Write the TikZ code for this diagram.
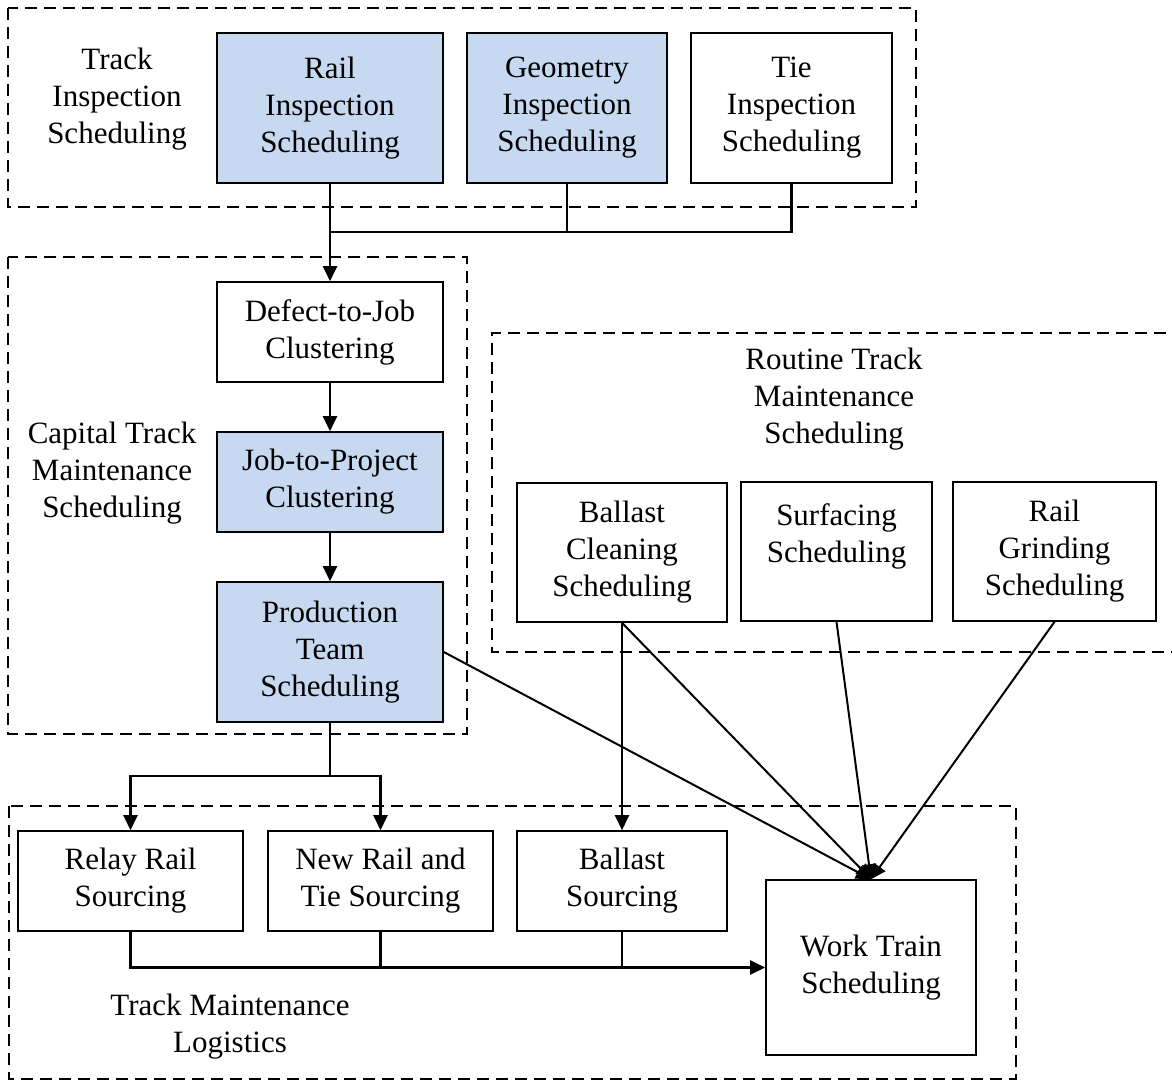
\documentclass[tikz,border=0pt]{standalone}
\usepackage{fontspec}
\setmainfont{Liberation Serif}
\usetikzlibrary{arrows.meta}
\definecolor{boxblue}{RGB}{198,217,240}
\begin{document}
\begin{tikzpicture}[x=1pt,y=-1pt,
  every node/.style={font=\fontsize{31}{37}\selectfont, align=center, inner sep=0pt},
  stepbox/.style={draw, line width=1.6pt, fill=white},
  bluebox/.style={stepbox, fill=boxblue},
  group/.style={draw, dashed, line width=1.6pt, dash pattern=on 12pt off 7pt},
  link/.style={line width=2.2pt},
  flow/.style={link, -{Triangle[length=15pt,width=14pt]}},
  feed/.style={line width=2pt, -{Triangle[length=15pt,width=14pt]}}
]
\useasboundingbox (0,0) rectangle (1172,1080);

% group frames
\draw[group] (8,8) rectangle (916,207);
\draw[group] (8,257) rectangle (467,734);
\draw[group] (1185,333) -- (492,333) -- (492,652) -- (1185,652);
\draw[group] (9,806) rectangle (1016,1079);

% group titles
\node (tis) at (117,99) {Track\\Inspection\\Scheduling};
\node (ctm) at (112,473) {Capital Track\\Maintenance\\Scheduling};
\node (rtm) at (834,399) {Routine Track\\Maintenance\\Scheduling};
\node (tml) at (230,1027) {Track Maintenance\\Logistics};

% inspection
\node[bluebox, minimum width=226pt, minimum height=150pt] (rail) at (330,108) {Rail\\Inspection\\Scheduling};
\node[bluebox, minimum width=200pt, minimum height=150pt] (geom) at (567,108) {Geometry\\Inspection\\Scheduling};
\node[stepbox, minimum width=201pt, minimum height=150pt] (tie) at (791.5,108) {Tie\\Inspection\\Scheduling};

% capital maintenance
\node[stepbox, minimum width=226pt, minimum height=100pt] (defect) at (330,332) {Defect-to-Job\\Clustering};
\node[bluebox, minimum width=226pt, minimum height=100pt] (job) at (330,482) {Job-to-Project\\Clustering};
\node[bluebox, minimum width=226pt, minimum height=140pt] (prod) at (330,652) {Production\\Team\\Scheduling};

% routine maintenance
\node[stepbox, minimum width=210pt, minimum height=139pt] (bclean) at (622,552.5) {Ballast\\Cleaning\\Scheduling};
\node[stepbox, minimum width=191pt, minimum height=139pt] (surf) at (836.5,551.5) {Surfacing\\Scheduling\\\mbox{}};
\node[stepbox, minimum width=203pt, minimum height=139pt] (grind) at (1054.5,551.5) {Rail\\Grinding\\Scheduling};

% logistics
\node[stepbox, minimum width=225pt, minimum height=100pt] (relay) at (130.5,881) {Relay Rail\\Sourcing};
\node[stepbox, minimum width=225pt, minimum height=100pt] (newrail) at (380.5,881) {New Rail and\\Tie Sourcing};
\node[stepbox, minimum width=210pt, minimum height=100pt] (bsrc) at (622,881) {Ballast\\Sourcing};
\node[stepbox, minimum width=210pt, minimum height=175pt] (wt) at (871,967.5) {Work Train\\Scheduling};

% inspection results gathered and passed on
\coordinate (ta) at (330,232);
\draw[link] (rail.south) -- (ta) -- (ta -| tie.south) -- (tie.south);
\draw[link] (geom.south) -- (ta -| geom.south);
\draw[flow] (ta) -- (defect.north);
\draw[flow] (defect.south) -- (job.north);
\draw[flow] (job.south) -- (prod.north);

% production team to sourcing
\coordinate (pb) at (330,776);
\draw[link] (prod.south) -- (pb);
\draw[flow] (pb) -| (relay.north);
\draw[flow] (pb) -| (newrail.north);

% sourcing to work trains
\draw[flow] (relay.south) |- (wt.west);
\draw[link] (newrail.south) -- (newrail.south |- wt.west);
\draw[link] (bsrc.south) -- (bsrc.south |- wt.west);

% demands on work trains
\draw[feed] (bclean.south) -- (bsrc.north);
\draw[feed] (prod.east) -- (wt.north);
\draw[feed] (bclean.south) -- (wt.north);
\draw[feed] (surf.south) -- (wt.north);
\draw[feed] (grind.south) -- (wt.north);
\end{tikzpicture}
\end{document}
